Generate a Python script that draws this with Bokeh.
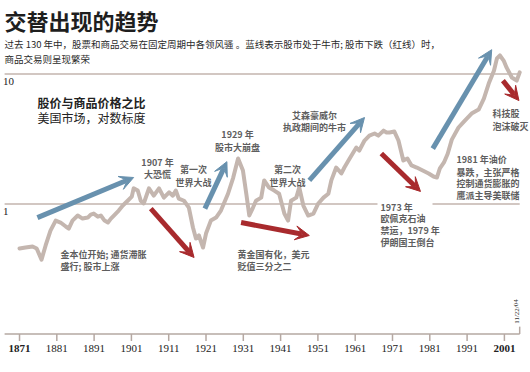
from bokeh.plotting import figure
from bokeh.models import Label, Arrow, VeeHead, BoxAnnotation
from bokeh.embed import file_html
from bokeh.resources import INLINE

# ---------------- data ----------------
years = [1871.0, 1872.6, 1874.5, 1875.6, 1876.9, 1878.0, 1879.3, 1880.7, 1882.0, 1883.4,
         1884.2, 1885.2, 1886.6, 1887.9, 1889.3, 1890.1, 1890.9, 1892.0, 1892.8, 1893.8,
         1894.7, 1895.5, 1896.3, 1897.6, 1898.7, 1900.0, 1901.1, 1901.6, 1902.7, 1903.5,
         1904.3, 1905.7, 1907.0, 1908.4, 1909.7, 1911.1, 1912.1, 1912.9, 1913.7, 1915.1,
         1916.4, 1917.5, 1918.3, 1919.1, 1920.2, 1921.0, 1922.3, 1923.7, 1925.0, 1926.9,
         1928.3, 1929.6, 1930.9, 1931.8, 1932.6, 1933.6, 1934.4, 1935.8, 1936.6, 1937.9,
         1939.3, 1940.6, 1942.0, 1943.0, 1943.8, 1945.2, 1946.0, 1947.1, 1948.4, 1949.8,
         1951.1, 1952.5, 1953.8, 1954.6, 1955.9, 1957.3, 1958.1, 1959.2, 1960.0, 1961.3,
         1962.1, 1963.5, 1964.8, 1966.2, 1967.2, 1968.6, 1969.4, 1970.2, 1971.5, 1972.6,
         1973.9, 1975.0, 1976.1, 1977.5, 1979.1, 1980.7, 1982.0, 1982.9, 1983.7, 1984.8,
         1985.8, 1986.9, 1988.7, 1990.4, 1992.2, 1994.1, 1995.5, 1996.8, 1998.2, 1999.0,
         1999.8, 2000.8, 2001.6, 2003.0, 2004.3, 2005.1]
ratio = [0.455, 0.463, 0.471, 0.455, 0.374, 0.48, 0.625, 0.746, 0.721, 0.672,
         0.648, 0.746, 0.816, 0.773, 0.787, 0.83, 0.845, 0.80, 0.816, 0.746,
         0.721, 0.773, 0.816, 0.891, 0.974, 1.06, 1.14, 1.32, 1.27, 1.06,
         1.01, 1.32, 1.16, 1.32, 1.12, 1.23, 1.16, 1.27, 1.10, 1.06,
         0.94, 0.66, 0.543, 0.573, 0.463, 0.593, 0.746, 0.787, 0.891, 1.20,
         1.60, 2.24, 1.81, 1.20, 0.816, 0.94, 1.06, 1.12, 1.52, 1.34,
         1.27, 1.20, 0.845, 0.746, 1.06, 1.12, 1.34, 0.974, 0.816, 0.845,
         1.01, 1.12, 1.20, 1.52, 1.91, 1.72, 1.91, 2.16, 2.36, 2.72,
         2.58, 3.08, 3.36, 3.49, 3.36, 3.67, 3.55, 3.55, 3.61, 3.08,
         2.16, 2.24, 1.98, 1.91, 1.81, 1.72, 1.63, 1.60, 1.88, 2.09,
         2.44, 3.13, 3.88, 4.39, 4.97, 5.33, 6.48, 8.45, 10.6, 13.2,
         13.9, 12.7, 11.2, 9.40, 8.91, 10.3]

tick_years = [1871, 1881, 1891, 1901, 1911, 1921, 1931, 1941, 1951, 1961, 1971, 1981, 1991, 2001]
tick_labels = [str(y) for y in tick_years]
bold_years = [1871, 2001]
grid_values = [1, 10]
grid_labels = ["1", "10"]

# arrows: (start year, start ratio, end year, end ratio)
bull_arrows = [(1875.8, 0.787, 1901.6, 1.60),
               (1920.7, 0.923, 1926.6, 2.12),
               (1948.7, 1.52, 1963.5, 4.63),
               (1981.8, 2.67, 1997.6, 15.4)]
bear_arrows = [(1906.2, 0.923, 1917.8, 0.388),
               (1930.4, 0.721, 1948.7, 0.573),
               (1968.0, 2.45, 1978.5, 1.25),
               (2000.6, 8.91, 2004.9, 6.25)]

title = "交替出现的趋势"
subtitle = ["过去 130 年中，股票和商品交易在固定周期中各领风骚 。蓝线表示股市处于牛市; 股市下跌（红线）时，",
            "商品交易则呈现繁荣"]

# ---------------- styling ----------------
CJK = "Noto Sans CJK SC"
SERIF = "Liberation Serif"
LINE_C = "#c4b6af"
GRID_C = "#d2c7c2"
AXIS_C = "#b5a8a2"
BLUE = "#6891ae"
RED = "#a82a2d"
ANN_C = "#5e5e5e"

W, H = 530, 372
X_RANGE = (1865.9, 2008.0)
Y_RANGE = (0.0506, 36.8)
AXIS_SPAN = (1867.0, 2005.1)      # extent of base line & gridlines
AXIS_BASE = 0.1                  # value where the time axis sits
TICK_END = 0.0884                # 7px below the axis line
LABEL_Y = 0.0773                 # tick label position
END_TICK = 0.114

p = figure(width=W, height=H, x_range=X_RANGE, y_range=Y_RANGE,
           y_axis_type="log", y_axis_location=None, x_axis_location=None,
           toolbar_location=None, output_backend="svg",
           min_border_left=0, min_border_right=0, min_border_top=0,
           min_border_bottom=0)
p.outline_line_color = None
p.grid.visible = False
p.background_fill_color = "white"
p.border_fill_color = "white"

# gridlines at 1 and 10
p.multi_line(xs=[list(AXIS_SPAN) for _ in grid_values],
             ys=[[g, g] for g in grid_values], line_color=GRID_C, line_width=2)

# white box behind the 1973 note (interrupts the gridline)
p.add_layout(BoxAnnotation(left=377, right=432, bottom=372 - 212, top=372 - 199,
                           left_units="screen", right_units="screen",
                           bottom_units="screen", top_units="screen",
                           fill_color="white", fill_alpha=1.0, line_color=None))

# time axis: base line, ticks, labels
p.line(list(AXIS_SPAN), [AXIS_BASE, AXIS_BASE], line_color=AXIS_C, line_width=1.5)
p.segment(x0=tick_years, y0=[AXIS_BASE] * len(tick_years),
          x1=tick_years, y1=[TICK_END] * len(tick_years),
          line_color=AXIS_C, line_width=1.5)
p.segment(x0=[AXIS_SPAN[1]], y0=[AXIS_BASE], x1=[AXIS_SPAN[1]], y1=[END_TICK],
          line_color=AXIS_C, line_width=1.5)
p.text(x=tick_years, y=[LABEL_Y] * len(tick_years), text=tick_labels,
       text_font=SERIF, text_font_size="11px",
       text_font_style=["bold" if y in bold_years else "normal" for y in tick_years],
       text_color="#222222", text_align="center", text_baseline="middle")

# data line
p.line(years, ratio, line_color=LINE_C, line_width=4, line_join="round", line_cap="round")

# arrows
for arrows, col in ((bull_arrows, BLUE), (bear_arrows, RED)):
    for x0, y0, x1, y1 in arrows:
        p.add_layout(Arrow(x_start=x0, y_start=y0, x_end=x1, y_end=y1,
                           line_color=col, line_width=5,
                           end=VeeHead(size=14, fill_color=col, line_color=col, line_width=1)))


def label(text, x, y, size="9px", align="left", bold=True, color=ANN_C,
          font=CJK, baseline="middle", angle=0):
    p.add_layout(Label(x=x, y=H - y, x_units="screen", y_units="screen",
                       text=text, text_font=font, text_font_size=size,
                       text_font_style="bold" if bold else "normal",
                       text_color=color, text_align=align, text_baseline=baseline,
                       angle=angle))


# title & subtitle
label(title, 4, 3, size="22px", bold=True, color="#1e1e1e", baseline="top")
label(subtitle[0], 4, 43, size="9.5px", bold=False, color="#2a2a2a")
label(subtitle[1], 4, 58, size="9.5px", bold=False, color="#2a2a2a")

# chart label
label("股价与商品价格之比", 37, 102, size="12px", bold=True, color="#222222")
label("美国市场，对数标度", 37, 117, size="12px", bold=False, color="#222222")

# value labels under the gridlines
for g, t in zip(grid_values, grid_labels):
    p.text(x=[1866.6], y=[g * 0.87], text=[t], text_font=SERIF, text_font_size="11px",
           text_color="#222222", text_align="left", text_baseline="middle")

notes = [("1907 年", 157, 162, "center"), ("大恐慌", 157, 174, "center"),
         ("第一次", 193, 169, "center"), ("世界大战", 193, 182, "center"),
         ("1929 年", 237, 134, "center"), ("股市大崩盘", 237, 147, "center"),
         ("金本位开始; 通货滞胀", 60, 254, "left"), ("盛行; 股市上涨", 60, 266, "left"),
         ("黄金国有化，美元", 237, 254, "left"), ("贬值三分之二", 237, 266, "left"),
         ("第二次", 287, 169, "center"), ("世界大战", 287, 182, "center"),
         ("艾森豪威尔", 314, 115, "center"), ("执政期间的牛市", 314, 127, "center"),
         ("1973 年", 380, 207, "left"), ("欧佩克石油", 380, 218, "left"),
         ("禁运，1979 年", 380, 230, "left"), ("伊朗国王倒台", 380, 242, "left"),
         ("1981 年油价", 456, 159, "left"), ("暴跌，主张严格", 456, 172, "left"),
         ("控制通货膨胀的", 456, 183, "left"), ("鹰派主导美联储", 456, 195, "left"),
         ("科技股", 492, 113, "left"), ("泡沫破灭", 492, 126, "left")]
for t, x, y, a in notes:
    label(t, x, y, size="9px", align=a)

# date stamp
label("11/22/04", 516, 311, size="7px", bold=False, color="#333333",
      font="Liberation Sans Narrow", align="center", angle=1.5708)

open("out.html", "w").write(file_html(p, INLINE))
